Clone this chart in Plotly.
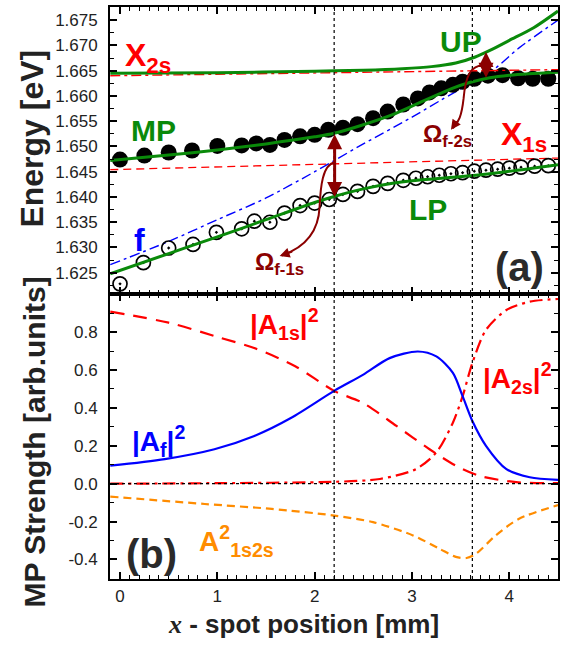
import plotly.graph_objects as go
from plotly.subplots import make_subplots

# ---------------- data ----------------
# top panel: energies [eV]
x_up = [-0.1, 1.0, 2.0, 2.5, 2.9, 3.2, 3.45, 3.65, 3.8, 4.0, 4.25, 4.5]
e_up = [1.6645, 1.6646, 1.6649, 1.6651, 1.6654, 1.6658, 1.6665, 1.6677, 1.6690, 1.6710, 1.6735, 1.6768]

x_mpfit = [-0.1, 0.5, 1.0, 1.5, 2.0, 2.2, 2.5, 2.8, 3.0, 3.2, 3.4, 3.6, 3.8, 4.0, 4.2, 4.5]
e_mpfit = [1.6472, 1.6483, 1.6493, 1.6505, 1.6519, 1.6526, 1.6543, 1.6563, 1.6580, 1.6597, 1.6614,
           1.6627, 1.6636, 1.6641, 1.6644, 1.6647]

x_lpfit = [-0.1, 0.5, 1.0, 1.5, 2.0, 2.2, 2.5, 2.8, 3.0, 3.3, 3.6, 4.0, 4.5]
e_lpfit = [1.6248, 1.6288, 1.6321, 1.6355, 1.6389, 1.6401, 1.6416, 1.6427, 1.6432, 1.6437, 1.6442,
           1.6451, 1.6464]

x_f = [-0.1, 0.5, 1.0, 1.5, 2.0, 2.2, 2.5, 3.0, 3.3, 3.6, 3.85, 4.1, 4.5]
e_f = [1.6266, 1.6312, 1.6355, 1.6398, 1.6450, 1.6472, 1.6505, 1.6558, 1.6592, 1.6625, 1.6654, 1.6695, 1.6750]

x_x2s = [-0.1, 4.5]
e_x2s = [1.6640, 1.6652]
x_x1s = [-0.1, 4.5]
e_x1s = [1.6454, 1.6477]

x_mp = [0, 0.25, 0.5, 0.74, 1.0, 1.25, 1.40, 1.54, 1.69, 1.85, 2.0, 2.14, 2.29, 2.44, 2.60, 2.75,
        2.91, 3.06, 3.18, 3.30, 3.42, 3.52, 3.64, 3.78, 3.93, 4.09, 4.24, 4.40]
e_mp = [1.6474, 1.6482, 1.6488, 1.6492, 1.6501, 1.6502, 1.6506, 1.6503, 1.6513, 1.6520, 1.6523,
        1.6533, 1.6537, 1.6544, 1.6556, 1.6569, 1.6583, 1.6595, 1.6607, 1.6615, 1.6622, 1.6628,
        1.6634, 1.6640, 1.6641, 1.6635, 1.6634, 1.6634]

x_lp = [0, 0.24, 0.5, 0.75, 0.99, 1.25, 1.38, 1.54, 1.69, 1.85, 2.0, 2.15, 2.29, 2.44, 2.60, 2.75,
        2.91, 3.04, 3.16, 3.28, 3.40, 3.52, 3.64, 3.76, 3.88, 4.00, 4.12, 4.26, 4.40]
e_lp = [1.6228, 1.6270, 1.6299, 1.6306, 1.6330, 1.6337, 1.6352, 1.6350, 1.6368, 1.6383, 1.6388,
        1.6395, 1.6405, 1.6411, 1.6421, 1.6427, 1.6433, 1.6437, 1.6440, 1.6443, 1.6446, 1.6448,
        1.6451, 1.6453, 1.6455, 1.6457, 1.6459, 1.6461, 1.6462]

# bottom panel: MP strengths
x_a1s = [-0.1, 0.5, 1.0, 1.4, 1.8, 2.2, 2.5, 2.84, 3.18, 3.45, 3.69, 4.07, 4.5]
v_a1s = [0.908, 0.850, 0.775, 0.712, 0.620, 0.490, 0.425, 0.305, 0.182, 0.095, 0.042, 0.008, 0.003]

x_af = [-0.1, 0.46, 0.97, 1.38, 1.76, 2.2, 2.5, 2.77, 3.06, 3.25, 3.42, 3.52, 3.62, 3.76, 3.97, 4.21, 4.5]
v_af = [0.095, 0.130, 0.182, 0.252, 0.348, 0.490, 0.576, 0.663, 0.698, 0.672, 0.585, 0.462, 0.331,
        0.200, 0.077, 0.034, 0.020]

x_a2s = [-0.1, 1.0, 2.2, 2.67, 3.04, 3.25, 3.42, 3.52, 3.62, 3.76, 3.97, 4.21, 4.5]
v_a2s = [0.0, 0.003, 0.010, 0.025, 0.077, 0.165, 0.322, 0.462, 0.637, 0.812, 0.917, 0.961, 0.975]

x_a12 = [-0.1, 0.87, 1.56, 2.2, 2.6, 3.01, 3.28, 3.45, 3.56, 3.66, 3.86, 4.1, 4.5]
v_a12 = [-0.068, -0.107, -0.133, -0.168, -0.203, -0.273, -0.343, -0.386, -0.392, -0.369, -0.273,
         -0.185, -0.113]

x_vlines = [2.2, 3.62]

top_ticks = [1.625, 1.630, 1.635, 1.640, 1.645, 1.650, 1.655, 1.660, 1.665, 1.670, 1.675]
bot_ticks = [-0.4, -0.2, 0.0, 0.2, 0.4, 0.6, 0.8]
bot_ticktext = ["-0.4", "-0.2", "0.0", "0.2", "0.4", "0.6", "0.8"]
x_ticks = [0, 1, 2, 3, 4]

# ---------------- styles ----------------
GREEN = "#0a8a0a"
RED = "#ff0000"
BLUE = "#0000ff"
ORANGE = "#ff8c00"
DRED = "#8b0000"
FONT = "Liberation Sans, Arial, sans-serif"
TXT = "#222222"

fig = make_subplots(rows=2, cols=1, shared_xaxes=True, vertical_spacing=0,
                    row_heights=[0.5017, 0.4983])

def line(x, y, color, width, dash, row):
    fig.add_trace(go.Scatter(x=x, y=y, mode="lines", line=dict(color=color, width=width, dash=dash,
                  shape="spline", smoothing=0.8), hoverinfo="skip"), row=row, col=1)

# top panel
line(x_x1s, e_x1s, RED, 1.3, "8px,5px", 1)
line(x_f, e_f, BLUE, 1.4, "10px,4px,3px,4px", 1)
fig.add_trace(go.Scatter(x=x_lp, y=e_lp, mode="markers",
              marker=dict(symbol="circle-open-dot", size=14, color="black", line=dict(width=1.7)),
              hoverinfo="skip"), row=1, col=1)
fig.add_trace(go.Scatter(x=x_mp, y=e_mp, mode="markers",
              marker=dict(symbol="circle", size=16, color="black"), hoverinfo="skip"), row=1, col=1)
line(x_x2s, e_x2s, RED, 1.4, "10px,4px,3px,4px", 1)
line(x_up, e_up, GREEN, 3, "solid", 1)
line(x_mpfit, e_mpfit, GREEN, 3, "solid", 1)
line(x_lpfit, e_lpfit, GREEN, 3, "solid", 1)

# bottom panel
line(x_a12, v_a12, ORANGE, 2.2, "8px,5px", 2)
line(x_a2s, v_a2s, RED, 2.2, "13px,5px,3px,5px", 2)
line(x_a1s, v_a1s, RED, 2.2, "14px,9px", 2)
line(x_af, v_af, BLUE, 2.2, "solid", 2)

# dotted guide lines
for xv in x_vlines:
    fig.add_shape(type="line", xref="x", yref="paper", x0=xv, x1=xv, y0=0, y1=1,
                  line=dict(color="black", width=1.2, dash="dot"))
fig.add_shape(type="line", xref="paper", yref="y2", x0=0, x1=1, y0=0, y1=0,
              line=dict(color="black", width=1.2, dash="dot"))

# curved arrows (Omega couplings)
fig.add_shape(type="path", xref="x", yref="y",
              path="M 2.205,1.6468 C 2.08,1.6464 2.06,1.6420 2.05,1.6380 C 2.04,1.6330 1.90,1.6300 1.66,1.6284",
              line=dict(color=DRED, width=2))
fig.add_shape(type="path", xref="x", yref="y",
              path="M 3.74,1.6661 C 3.60,1.6660 3.55,1.6640 3.53,1.6595 C 3.51,1.6560 3.48,1.6548 3.42,1.6536",
              line=dict(color=DRED, width=2))

ann = []
def arrow(x, y, ax, ay, xr, yr, both=False, pix=True, width=2.0):
    d = dict(x=x, y=y, ax=ax, ay=ay, xref=xr, yref=yr, text="", showarrow=True,
             arrowhead=2, arrowsize=1.0, arrowwidth=width, arrowcolor=DRED, standoff=0, startstandoff=0)
    if not pix:
        d.update(axref=xr, ayref=yr)
    if both:
        d.update(arrowside="end+start", startarrowhead=2, startarrowsize=1.0)
    ann.append(d)

arrow(1.64, 1.6283, 14, -5, "x", "y")
arrow(3.40, 1.6533, 7, -10, "x", "y")
arrow(2.205, 1.6400, 2.205, 1.6527, "x", "y", both=True, pix=False, width=3)
arrow(3.76, 1.6636, 3.76, 1.6690, "x", "y", both=True, pix=False, width=3)

def label(x, y, text, color, size, xr, yr, xa="center", ya="middle"):
    ann.append(dict(x=x, y=y, xref=xr, yref=yr, text=text, showarrow=False, xanchor=xa, yanchor=ya,
                    font=dict(family=FONT, size=size, color=color)))

label(0.03, 1.6677, "<b>X<sub>2s</sub></b>", RED, 32, "x", "y", xa="left")
label(3.50, 1.6707, "<b>UP</b>", GREEN, 30, "x", "y")
label(0.34, 1.6531, "<b>MP</b>", GREEN, 30, "x", "y")
label(4.15, 1.6519, "<b>X<sub>1s</sub></b>", RED, 32, "x", "y")
label(0.205, 1.6315, "<b>f</b>", BLUE, 32, "x", "y")
label(3.16, 1.6376, "<b>LP</b>", GREEN, 30, "x", "y")
label(1.64, 1.6268, "<b>Ω<sub>f-1s</sub></b>", DRED, 24, "x", "y")
label(3.36, 1.6522, "<b>Ω<sub>f-2s</sub></b>", DRED, 24, "x", "y")
label(4.10, 1.6261, "<b>(a)</b>", "#2a2a2a", 40, "x", "y")

label(1.69, 0.842, "<b>|A<sub>1s</sub>|<sup>2</sup></b>", RED, 28, "x2", "y2")
label(0.40, 0.224, "<b>|A<sub>f</sub>|<sup>2</sup></b>", BLUE, 28, "x2", "y2")
label(4.08, 0.56, "<b>|A<sub>2s</sub>|<sup>2</sup></b>", RED, 28, "x2", "y2")
label(1.20, -0.30, "<b>A<sup>2</sup><sub>1s2s</sub></b>", ORANGE, 28, "x2", "y2")
label(0.32, -0.37, "<b>(b)</b>", "#2a2a2a", 40, "x2", "y2")

# axis titles
ann.append(dict(x=-0.174, y=0.770, xref="paper", yref="paper", text="<b>Energy [eV]</b>",
                textangle=-90, showarrow=False, xanchor="center", yanchor="middle",
                font=dict(family=FONT, size=32, color=TXT)))
ann.append(dict(x=-0.168, y=0.240, xref="paper", yref="paper", text="<b>MP Strength [arb.units]</b>",
                textangle=-90, showarrow=False, xanchor="center", yanchor="middle",
                font=dict(family=FONT, size=30, color=TXT)))
ann.append(dict(x=0.433, y=-0.079, xref="paper", yref="paper",
                text="<span style=\"font-family:'Liberation Serif',serif;font-style:italic\"><b>x</b></span><b> - spot position [mm]</b>",
                showarrow=False, xanchor="center", yanchor="middle",
                font=dict(family=FONT, size=26, color=TXT)))

fig.update_layout(annotations=ann)

axis_common = dict(showline=True, linecolor="black", linewidth=1.8, mirror="ticks", ticks="inside",
                   ticklen=7, tickwidth=1.5, tickcolor="black", showgrid=False, zeroline=False,
                   tickfont=dict(family=FONT, size=17, color=TXT))

fig.update_xaxes(**axis_common, range=[-0.103, 4.5], tickmode="array", tickvals=x_ticks,
                 ticklabelstandoff=1,
                 minor=dict(dtick=0.1, tick0=0, ticklen=4, tickwidth=1.2, tickcolor="black", ticks="inside"))
fig.update_xaxes(showticklabels=False, row=1, col=1)
fig.update_xaxes(showticklabels=True, row=2, col=1)

fig.update_yaxes(**axis_common, row=1, col=1, range=[1.6208, 1.6776], tickmode="array",
                 tickvals=top_ticks, tickformat=".3f", ticklabelstandoff=7,
                 minor=dict(dtick=0.0025, tick0=1.625, ticklen=4, tickwidth=1.2, tickcolor="black", ticks="inside"))
fig.update_yaxes(**axis_common, row=2, col=1, range=[-0.503, 1.0016], tickmode="array",
                 tickvals=bot_ticks, ticktext=bot_ticktext, ticklabelstandoff=7,
                 minor=dict(dtick=0.1, tick0=0, ticklen=4, tickwidth=1.2, tickcolor="black", ticks="inside"))

fig.update_layout(width=567, height=658, margin=dict(l=110, r=9, t=5, b=79),
                  paper_bgcolor="white", plot_bgcolor="white", showlegend=False)

fig.write_html("out.html")
